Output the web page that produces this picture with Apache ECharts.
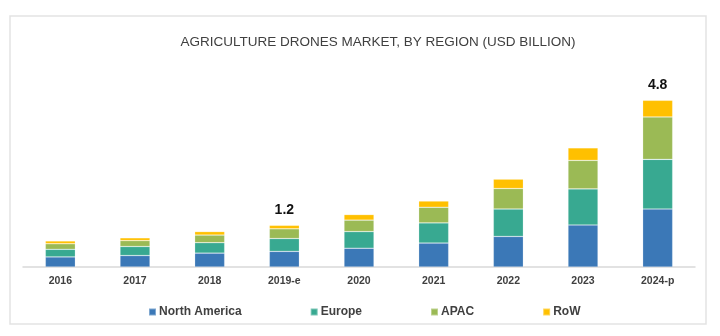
<!DOCTYPE html>
<html>
<head>
<meta charset="utf-8">
<script src="https://cdn.jsdelivr.net/npm/echarts@6/dist/echarts.min.js"></script>
<style>
html,body{margin:0;padding:0;background:#fff;}
#chart{width:720px;height:336px;}
</style>
</head>
<body>
<div id="chart"></div>
<script>
const titleText = 'AGRICULTURE DRONES MARKET, BY REGION (USD BILLION)';
const categories = ['2016', '2017', '2018', '2019-e', '2020', '2021', '2022', '2023', '2024-p'];
const northAmerica = [0.29, 0.33, 0.40, 0.45, 0.54, 0.69, 0.88, 1.21, 1.67];
const europe = [0.22, 0.26, 0.30, 0.37, 0.48, 0.58, 0.79, 1.04, 1.43];
const apac = [0.16, 0.17, 0.22, 0.28, 0.33, 0.45, 0.59, 0.82, 1.22];
const row = [0.08, 0.08, 0.10, 0.10, 0.16, 0.18, 0.27, 0.36, 0.48];
const totalLabels = ['', '', '', '1.2', '', '', '', '', '4.8'];
const seriesNames = ['North America', 'Europe', 'APAC', 'RoW'];
const colors = ['#3b78b7', '#38a991', '#9bba55', '#ffc000'];

const FONT = '"Liberation Sans", Arial, sans-serif';
const chart = echarts.init(document.getElementById('chart'));
const values = [northAmerica, europe, apac, row];
const series = seriesNames.map((name, i) => ({
  name: name,
  type: 'bar',
  stack: 'total',
  barWidth: 30,
  itemStyle: { color: colors[i], borderColor: 'rgba(255,255,255,0.35)', borderWidth: 0.6 },
  data: values[i].map((v, j) => {
    if (i === 3 && totalLabels[j]) {
      return {
        value: v,
        label: {
          show: true, position: 'top', distance: 8,
          formatter: totalLabels[j],
          fontFamily: FONT, fontWeight: 'bold', fontSize: 14, color: '#111'
        }
      };
    }
    return v;
  })
}));

chart.setOption({
  animation: false,
  color: colors,
  graphic: [{
    type: 'rect',
    shape: { x: 10, y: 16, width: 696, height: 308 },
    style: { fill: 'none', stroke: '#e3e3e3', lineWidth: 1.5 },
    z: -1
  }],
  title: {
    text: titleText,
    left: 373, top: 30, textAlign: 'center',
    textStyle: { fontFamily: FONT, fontWeight: 'normal', fontSize: 13.5, color: '#404040' }
  },
  legend: {
    data: seriesNames,
    top: 301, left: 143,
    icon: 'rect', itemWidth: 7, itemHeight: 7, itemGap: 68,
    textStyle: { fontFamily: FONT, fontWeight: 'bold', fontSize: 12, color: '#404040', padding: [0, 0, 0, -2] }
  },
  grid: { left: 23, right: 25, top: 76, bottom: 69, containLabel: false },
  xAxis: {
    type: 'category',
    data: categories,
    axisLine: { lineStyle: { color: '#d9d9d9', width: 1.5 } },
    axisTick: { show: false },
    axisLabel: { fontFamily: FONT, fontWeight: 'bold', fontSize: 10.5, color: '#404040', margin: 9 }
  },
  yAxis: {
    type: 'value', min: 0, max: 5.5,
    show: false,
    splitLine: { show: false }
  },
  series: series
});
</script>
</body>
</html>
